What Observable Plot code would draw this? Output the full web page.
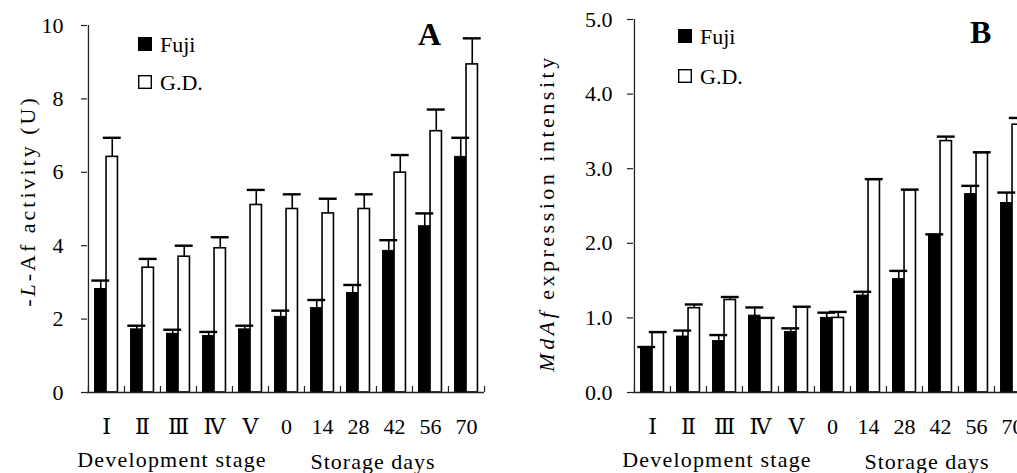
<!DOCTYPE html>
<html><head><meta charset="utf-8">
<script src="https://cdn.jsdelivr.net/npm/d3@7"></script>
<script src="https://cdn.jsdelivr.net/npm/@observablehq/plot@0.6"></script>
<style>
html,body{margin:0;padding:0;background:#fff;overflow:hidden}
#wrap{position:relative;width:1017px;height:473px;overflow:hidden;background:#fff}
#a,#b{position:absolute;top:0}
#a{left:0;width:500px}
#b{left:500px;width:540px}
#wrap svg{max-width:none !important}
</style></head><body><div id="wrap"><div id="a"></div><div id="b"></div></div>
<script>
// categories
const groups = ["Ⅰ","Ⅱ","Ⅲ","Ⅳ","Ⅴ","0","14","28","42","56","70"];
const seriesNames = ["Fuji","G.D."];
// Panel A: -L-Af activity (U)
const fujiA    = [2.82,1.72,1.60,1.54,1.72,2.06,2.30,2.71,3.86,4.53,6.42];
const fujiAErr = [0.23,0.10,0.11,0.11,0.10,0.17,0.22,0.22,0.29,0.35,0.52];
const gdA      = [6.42,3.40,3.70,3.93,5.11,5.00,4.88,5.00,5.99,7.12,8.94];
const gdAErr   = [0.52,0.24,0.30,0.30,0.41,0.40,0.40,0.40,0.48,0.59,0.71];
const yTicksA  = [0,2,4,6,8,10];
// Panel B: MdAf expression intensity
const fujiB    = [0.60,0.75,0.69,1.03,0.81,1.00,1.30,1.52,2.11,2.66,2.54];
const fujiBErr = [0.01,0.08,0.08,0.11,0.05,0.07,0.05,0.11,0.01,0.11,0.14];
const gdB      = [0.80,1.13,1.24,0.99,1.14,1.00,2.85,2.71,3.37,3.21,3.59];
const gdBErr   = [0.01,0.05,0.04,0.01,0.01,0.08,0.01,0.01,0.06,0.01,0.09];
const yTicksB  = [0,1,2,3,4,5];

const FONT = "'Liberation Serif','DejaVu Serif','Times New Roman',serif";

function rows(vals, errs) {
  return groups.map((g, i) => ({g, v: vals[i], e: errs[i]}));
}

function panel(cfg) {
  const {width, marginLeft, marginRight, marginTop, yMax, yTicks, tickFormat, tickPadding, fuji, gd} = cfg;
  const height = 473, marginBottom = 81;
  const step = (width - marginLeft - marginRight) / groups.length;
  const barW = 11.5, capW = 18;
  const F = rows(fuji[0], fuji[1]);
  const G = rows(gd[0], gd[1]);
  return Plot.plot({
    width, height, marginLeft, marginRight, marginTop, marginBottom,
    style: {fontFamily: FONT, fontSize: "22px", background: "white", color: "black", overflow: "visible", maxWidth: "none"},
    x: {type: "band", domain: groups, padding: 0},
    y: {domain: [0, yMax]},
    marks: [
      Plot.barY(F, {x: "g", y: "v", fill: "black", stroke: "black", strokeWidth: 1,
        insetLeft: step / 2 - barW, insetRight: step / 2}),
      Plot.barY(G, {x: "g", y: "v", fill: "white", stroke: "black", strokeWidth: 1.6,
        insetLeft: step / 2, insetRight: step / 2 - barW}),
      Plot.ruleX(F, {x: "g", y1: "v", y2: d => d.v + d.e, dx: -barW / 2, stroke: "black", strokeWidth: 1.6}),
      Plot.ruleX(G, {x: "g", y1: "v", y2: d => d.v + d.e, dx: barW / 2, stroke: "black", strokeWidth: 1.6}),
      Plot.tickY(F, {x: "g", y: d => d.v + d.e, stroke: "black", strokeWidth: 2.4,
        insetLeft: step / 2 - barW / 2 - capW / 2, insetRight: step / 2 + barW / 2 - capW / 2}),
      Plot.tickY(G, {x: "g", y: d => d.v + d.e, stroke: "black", strokeWidth: 2.4,
        insetLeft: step / 2 + barW / 2 - capW / 2, insetRight: step / 2 - barW / 2 - capW / 2}),
      Plot.ruleY([0], {stroke: "#222", strokeWidth: 1.3}),
      Plot.ruleX([groups[0]], {dx: -step / 2, y1: 0, y2: yMax, stroke: "#222", strokeWidth: 1.3}),
      Plot.axisX({ticks: groups, tickSize: 6, dy: -6, dx: -step / 2, fill: "none", label: null, stroke: "#222", strokeWidth: 1.2}),
      Plot.axisX({ticks: [groups[groups.length - 1]], tickSize: 6, dy: -6, dx: step / 2, fill: "none", label: null, stroke: "#222", strokeWidth: 1.2}),
      Plot.axisX({tickSize: 0, tickPadding: 26, fontSize: 22, label: null}),
      Plot.axisY({ticks: yTicks, tickSize: 6, tickPadding, fontSize: 22, label: null, tickFormat, stroke: "#222", strokeWidth: 1.2})
    ]
  });
}

function decorate(svg, o) {
  const s = d3.select(svg);
  const ff = FONT;
  // legend
  s.append("rect").attr("x", o.lx).attr("y", o.ly1 - 15).attr("width", 14).attr("height", 14).attr("fill", "black");
  s.append("rect").attr("x", o.lx + 0.7).attr("y", o.ly2 - 14.3).attr("width", 12.6).attr("height", 12.6)
    .attr("fill", "white").attr("stroke", "black").attr("stroke-width", 1.4);
  s.append("text").attr("x", o.lx + 22).attr("y", o.ly1).attr("text-anchor", "start").attr("font-family", ff).attr("font-size", 22).text(seriesNames[0]);
  s.append("text").attr("x", o.lx + 22).attr("y", o.ly2).attr("text-anchor", "start").attr("font-family", ff).attr("font-size", 22).text(seriesNames[1]);
  // panel letter
  s.append("text").attr("x", o.px).attr("y", o.py).attr("text-anchor", "start").attr("font-family", ff).attr("font-size", 32)
    .attr("font-weight", "bold").text(o.letter);
  // x titles
  s.append("text").attr("x", o.t1x).attr("y", 467).attr("text-anchor", "middle").attr("font-family", ff)
    .attr("font-size", 22).attr("letter-spacing", "1.2px").text("Development stage");
  s.append("text").attr("x", o.t2x).attr("y", 469).attr("text-anchor", "middle").attr("font-family", ff)
    .attr("font-size", 22).attr("letter-spacing", "1px").text("Storage days");
  // y title
  const t = s.append("text").attr("transform", `translate(${o.yx},${o.yy}) rotate(-90)`)
    .attr("text-anchor", "middle").attr("dy", "0.35em").attr("font-family", ff).attr("font-size", 22)
    .attr("letter-spacing", o.ls);
  o.ylabel.forEach(([str, it]) => {
    const sp = t.append("tspan").text(str);
    if (it) sp.attr("font-style", "italic");
  });
}

const svgA = panel({width: 500, marginLeft: 87, marginRight: 16, marginTop: 25, yMax: 10, yTicks: yTicksA,
  tickFormat: d3.format("d"), tickPadding: 18, fuji: [fujiA, fujiAErr], gd: [gdA, gdAErr]});
decorate(svgA, {lx: 138, ly1: 52, ly2: 90, px: 418, py: 45, letter: "A", t1x: 172, t2x: 373, yx: 27, yy: 201,
  ls: "3px", ylabel: [["-", false], ["L", true], ["-Af activity (U)", false]]});
document.getElementById("a").appendChild(svgA);

const svgB = panel({width: 540, marginLeft: 133, marginRight: 10, marginTop: 19, yMax: 5, yTicks: yTicksB,
  tickFormat: d3.format(".1f"), tickPadding: 15, fuji: [fujiB, fujiBErr], gd: [gdB, gdBErr]});
decorate(svgB, {lx: 178, ly1: 44, ly2: 84, px: 470, py: 43, letter: "B", t1x: 217, t2x: 427, yx: 46, yy: 213,
  ls: "3.5px", ylabel: [["MdAf", true], [" expression intensity", false]]});
document.getElementById("b").appendChild(svgB);
</script></body></html>
